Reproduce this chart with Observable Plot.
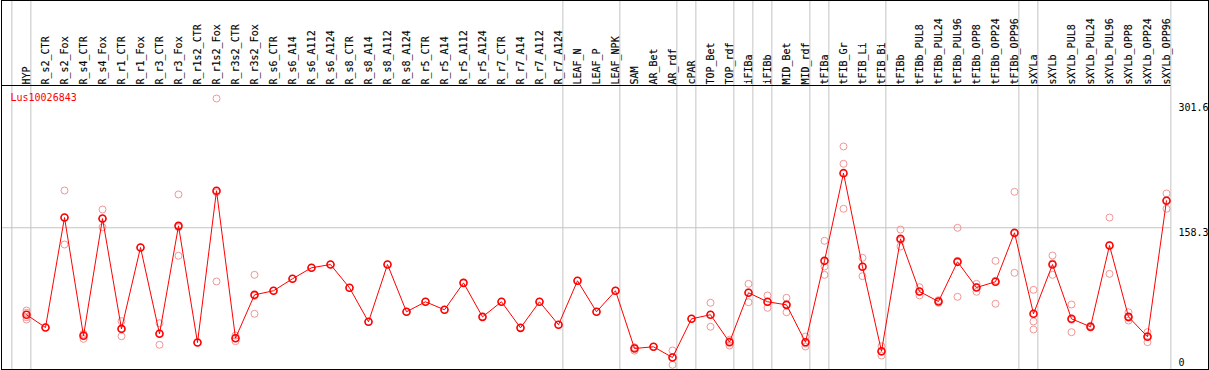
<!DOCTYPE html>
<html><head><meta charset="utf-8">
<script src="https://cdn.jsdelivr.net/npm/d3@7"></script>
<script src="https://cdn.jsdelivr.net/npm/@observablehq/plot@0.6"></script>
<style>html,body{margin:0;padding:0;background:#fff;overflow:hidden}</style>
</head><body><div id="chart"></div>
<script>
const title = "Lus10026843";
const categories = ["HYP","R_s2_CTR","R_s2_Fox","R_s4_CTR","R_s4_Fox","R_r1_CTR","R_r1_Fox","R_r3_CTR","R_r3_Fox","R_r1s2_CTR","R_r1s2_Fox","R_r3s2_CTR","R_r3s2_Fox","R_s6_CTR","R_s6_A14","R_s6_A112","R_s6_A124","R_s8_CTR","R_s8_A14","R_s8_A112","R_s8_A124","R_r5_CTR","R_r5_A14","R_r5_A112","R_r5_A124","R_r7_CTR","R_r7_A14","R_r7_A112","R_r7_A124","LEAF_N","LEAF_P","LEAF_NPK","SAM","AR_Bet","AR_rdf","cPAR","TOP_Bet","TOP_rdf","iFIBa","iFIBb","MID_Bet","MID_rdf","tFIBa","tFIB_Gr","tFIB_Li","tFIB_Bi","tFIBb","tFIBb_PUL8","tFIBb_PUL24","tFIBb_PUL96","tFIBb_OPP8","tFIBb_OPP24","tFIBb_OPP96","sXYLa","sXYLb","sXYLb_PUL8","sXYLb_PUL24","sXYLb_PUL96","sXYLb_OPP8","sXYLb_OPP24","sXYLb_OPP96"];
const means = [61.8,47.7,169.6,38.5,168.5,46.2,136.4,40.7,160.4,31.0,199.3,35.8,83.9,88.4,101.7,113.9,117.5,91.7,54.0,117.5,65.1,76.2,67.3,97.2,59.5,76.2,47.3,76.2,50.7,99.5,65.1,88.4,24.4,26.3,14.4,57.3,61.8,31.4,86.2,76.2,72.8,31.4,121.6,218.8,115.0,21.4,146.0,87.6,76.5,120.5,92.0,98.4,152.7,62.9,117.5,57.3,48.5,138.6,59.5,37.4,188.2];
const replicates = [
  [66.5,64.0,59.1,56.5],[47.7],[199.6,169.5,139.7],[40.7,35.1,39.7],[178.5,158.9,168.1],
  [54.7,38.0,45.9],[136.4],[52.4,28.5,41.2],[195.2,127.2,158.8],[31.0],
  [301.6,98.7,197.6],[38.8,32.5,36.1],[106.1,62.9,82.7],[88.4],[101.7],
  [113.9],[117.5],[91.7],[54.0],[117.5],
  [65.1],[76.2],[67.3],[97.2],[59.5],
  [76.2],[47.3],[76.2],[50.7],[99.5],
  [65.1],[88.4],[22.0,25.5,25.7],[26.3],[22.2,6.3,14.7],
  [57.3],[75.1,48.5,61.8],[34.0,27.7,32.5],[96.1,75.7,86.8],[83.2,69.5,75.9],
  [80.6,64.6,73.2],[37.7,26.6,29.9],[143.8,115.3,106.1],[248.4,229.2,179.3],[125.0,104.6,115.4],
  [26.9,16.6,20.7],[156.3,137.5,144.2],[92.4,83.2,87.2],[75.0,76.5,78.0],[158.2,81.7,121.6],
  [96.1,87.3,92.6],[121.6,74.0,99.6],[198.1,108.3,151.7],[89.5,54.3,45.5],[127.5,106.1,118.9],
  [73.2,42.5,56.2],[47.5,48.5,49.5],[169.6,107.2,139.0],[64.6,55.4,58.5],[42.5,31.4,38.3],
  [196.3,179.3,189.0]
];
const groupSizes = [1,28,3,3,1,2,1,1,2,1,3,7,1,7];
const yTickValues = [301.6, 158.3, 0];
const yMax = 301.6;

const n = categories.length;
const meanData = categories.map((c, i) => ({i, c, v: means[i]}));
const repData = replicates.flatMap((r, i) => r.map(v => ({i, v})));
const off = 0.23;
const bounds = [-1];
{ let cum = -1; for (const s of groupSizes) { cum += s; bounds.push(cum); } }
const boundX = bounds.map(b => b + off);
const xLeft = -1.32;

const headerLine = (index, {x}) => {
  return d3.create("svg:line")
    .attr("x1", 1).attr("x2", Math.round(x(n - 1 + off)) + 0.5)
    .attr("y1", 85.5).attr("y2", 85.5)
    .attr("stroke", "black").node();
};

const tickDy = [9, 5, -8];

const chart = Plot.plot({
  width: 1209,
  height: 370,
  marginLeft: 0, marginRight: 0, marginTop: 0, marginBottom: 0,
  style: {fontFamily: "'DejaVu Sans Mono', monospace", fontSize: "10px", background: "white", color: "black"},
  x: {type: "linear", domain: [0, n - 1], range: [26, 1166], axis: null},
  y: {domain: [0, yMax], range: [370, 98], axis: null},
  marks: [
    Plot.ruleX(boundX, {stroke: "#c4c4c4", strokeWidth: 1}),
    Plot.ruleY([yTickValues[1]], {x1: xLeft, x2: n - 1 + off, stroke: "#c4c4c4", strokeWidth: 1}),
    Plot.frame({stroke: "black", insetLeft: 1, insetRight: 1, insetBottom: 1}),
    headerLine,
    Plot.text(categories, {x: (d, i) => i, text: d => d, frameAnchor: "top", dx: 0.5, dy: 84, rotate: -90, textAnchor: "start", lineAnchor: "middle", fill: "black", stroke: "black", strokeWidth: 0.15}),
    Plot.text([title], {text: d => d, frameAnchor: "top-left", dx: 10, dy: 97, textAnchor: "start", lineAnchor: "middle", fill: "red"}),
    ...yTickValues.map((t, k) => Plot.text([t], {y: d => d, text: d => String(d), frameAnchor: "right", dx: -31, dy: tickDy[k], textAnchor: "start", lineAnchor: "middle", fill: "black"})),
    Plot.dot(repData, {x: "i", y: "v", r: 3.5, stroke: "#f09696", strokeWidth: 1, fill: "none"}),
    Plot.line(meanData, {x: "i", y: "v", stroke: "red", strokeWidth: 1}),
    Plot.dot(meanData, {x: "i", y: "v", r: 3.5, stroke: "red", strokeWidth: 1.6, fill: "none"})
  ]
});
document.getElementById("chart").appendChild(chart);
</script>
</body></html>
